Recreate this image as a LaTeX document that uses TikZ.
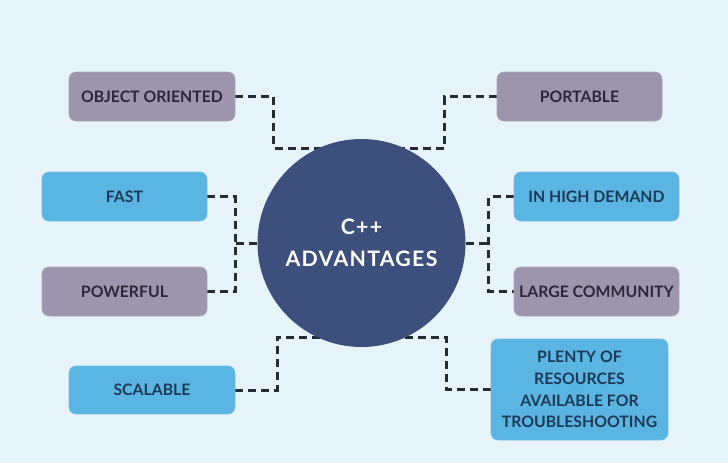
\documentclass[tikz,border=0pt]{standalone}
\usepackage{fontspec}
\setmainfont{Lato}
\newfontfamily\circfont[LetterSpace=6]{Lato}
\usetikzlibrary{calc}
\definecolor{bgc}{HTML}{E6F3F9}
\definecolor{grayb}{HTML}{9D95AC}
\definecolor{blueb}{HTML}{5BB5E2}
\definecolor{grayt}{HTML}{2B2838}
\definecolor{bluet}{HTML}{1D3A57}
\definecolor{circ}{HTML}{3D4F7C}
\definecolor{linec}{HTML}{262C35}
\pgfdeclarelayer{bgl}
\pgfdeclarelayer{back}
\pgfsetlayers{bgl,back,main}
\tikzset{
  box/.style={rectangle, rounded corners=7pt, minimum width=166pt, minimum height=49pt,
    inner sep=0pt, align=center, font=\bfseries\fontsize{15.8}{21.7}\selectfont},
  graybox/.style={box, fill=grayb, draw=grayb!85!white, line width=0.6pt, text=grayt},
  bluebox/.style={box, fill=blueb, draw=blueb!85!white, line width=0.6pt, text=bluet},
  conn/.style={draw=linec, line width=3pt, dash pattern=on 8pt off 5pt},
}
\begin{document}
\begin{tikzpicture}[x=1pt,y=-1pt]
\begin{pgfonlayer}{bgl}
\fill[bgc] (0,0) rectangle (728,463);
\end{pgfonlayer}
\useasboundingbox (0,0) rectangle (728,463);

\node[circle, fill=circ, minimum size=208pt, inner sep=0pt, text=white, align=center,
  font=\circfont\bfseries\fontsize{21.3}{32}\selectfont] (c) at (361.5,243) {C++\\ADVANTAGES};

\node[graybox] (oo) at (152,96.5) {OBJECT ORIENTED};
\node[graybox, minimum width=165pt] (port) at (579.5,96.5) {PORTABLE};
\node[bluebox, minimum width=165pt] (fast) at (124.5,196.5) {FAST};
\node[graybox, minimum width=165pt] (pow) at (124.5,291.5) {POWERFUL};
\node[bluebox, minimum width=165pt] (ihd) at (596.5,196.5) {IN HIGH DEMAND};
\node[graybox, minimum width=165pt] (lc) at (596.5,291.5) {LARGE COMMUNITY};
\node[bluebox, minimum height=48pt] (sc) at (152,390) {SCALABLE};
\node[bluebox, minimum width=177pt, minimum height=101pt] (pl) at (579.5,389.5)
  {PLENTY OF\\RESOURCES\\AVAILABLE FOR\\TROUBLESHOOTING};

\coordinate (cul) at ($(c.center)+(-20,-95)$);
\coordinate (cur) at ($(c.center)+(20,-95)$);
\coordinate (cll) at ($(c.center)+(-20,94)$);
\coordinate (clr) at ($(c.center)+(20,94)$);

\begin{pgfonlayer}{back}
\draw[conn] (oo.east) -- ++(38.5,0) |- (cul);
\draw[conn] (port.west) -- ++(-52,0) |- (cur);
\draw[conn] (fast.east) -- ++(28,0) |- (pow.east);
\draw[conn] (c.west) -- ++(-22.5,0);
\draw[conn] (ihd.west) -- ++(-25,0) |- (lc.west);
\draw[conn] (c.east) -- ++(24,0);
\draw[conn] (sc.east) -- ++(42,0) |- (cll);
\draw[conn] (pl.west) -- ++(-44,0) |- (clr);
\end{pgfonlayer}
\end{tikzpicture}
\end{document}
